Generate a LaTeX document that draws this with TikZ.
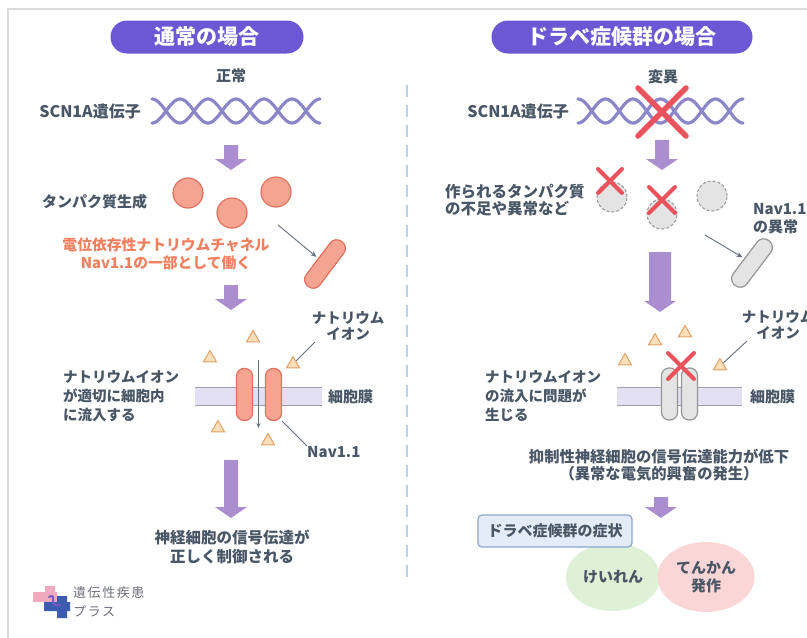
\documentclass[tikz,border=0pt]{standalone}
\usepackage{fontspec}
\setmainfont{Noto Sans CJK JP}
\usetikzlibrary{shapes.geometric, arrows.meta}

\definecolor{headpurple}{RGB}{108,88,212}
\definecolor{arrowpurple}{RGB}{170,142,208}
\definecolor{helixblue}{RGB}{138,134,200}
\definecolor{ink}{RGB}{72,86,102}
\definecolor{salmon}{RGB}{246,164,146}
\definecolor{salmonline}{RGB}{226,112,96}
\definecolor{orangetext}{RGB}{240,128,96}
\definecolor{xred}{RGB}{234,82,92}
\definecolor{grayfill}{RGB}{228,228,228}
\definecolor{grayline}{RGB}{150,150,150}
\definecolor{ionfill}{RGB}{251,222,186}
\definecolor{ionline}{RGB}{226,162,104}
\definecolor{membfill}{RGB}{226,224,242}
\definecolor{membline}{RGB}{160,160,172}
\definecolor{divider}{RGB}{186,210,234}
\definecolor{boxfill}{RGB}{228,236,248}
\definecolor{boxline}{RGB}{140,165,205}
\definecolor{seizgreen}{RGB}{222,240,214}
\definecolor{seizpink}{RGB}{250,214,214}
\definecolor{logopink}{RGB}{240,170,190}
\definecolor{logoblue}{RGB}{60,92,176}
\definecolor{logopurple}{RGB}{120,90,200}
\definecolor{logotext}{RGB}{110,112,124}

% x, top, bottom, half shaft width
\newcommand{\flowarrow}[4]{%
  \fill[arrowpurple] (#1-#4,#2) -- (#1+#4,#2) -- (#1+#4,#3-11) -- (#1+16,#3-11)
    -- (#1,#3) -- (#1-16,#3-11) -- (#1-#4,#3-11) -- cycle;}
% x, y, half size, line width
\newcommand{\crossout}[4]{%
  \draw[xred, line width=#4, line cap=round]
    (#1-#3,#2-#3) -- (#1+#3,#2+#3) (#1-#3,#2+#3) -- (#1+#3,#2-#3);}

\tikzset{
  txt/.style={text=ink, inner sep=0pt, font=\fontsize{15}{18}\selectfont\bfseries},
  head/.style={fill=headpurple, text=white, rounded corners=16.5pt, minimum height=33pt,
    inner sep=0pt, font=\fontsize{21}{24}\selectfont\bfseries},
  protein/.style={circle, draw=salmonline, fill=salmon, line width=1.2pt, minimum size=30pt, inner sep=0pt},
  lostprotein/.style={circle, draw=grayline, fill=grayfill, dash pattern=on 3pt off 2pt,
    line width=1pt, minimum size=30pt, inner sep=0pt},
  rod/.style={rectangle, rounded corners=8pt, minimum width=56pt, minimum height=17pt,
    rotate=53, line width=1.2pt, inner sep=0pt},
  pore/.style={rectangle, rounded corners=7.5pt, minimum width=16pt, minimum height=52pt,
    line width=1.2pt, inner sep=0pt},
  ion/.style={regular polygon, regular polygon sides=3, draw=ionline, fill=ionfill,
    minimum size=15pt, inner sep=0pt, line width=1pt},
  ptr/.style={draw=ink!85, line width=0.9pt},
  helix/.style={helixblue, line width=3.2pt, line cap=round},
}

\begin{document}
\begin{tikzpicture}[x=1pt, y=-1pt]
\useasboundingbox (0,0) rectangle (807,638);
\fill[white] (0,0) rectangle (807,638);
\draw[black!14, line width=1.2pt] (8,645) -- (8,9) -- (815,9);

% headers
\node[head, minimum width=193pt] (hnormal) at (207,37) {通常の場合};
\node[head, minimum width=261pt] (hdravet) at (622,37) {ドラベ症候群の場合};

\draw[divider, line width=2.5pt, dash pattern=on 12pt off 8pt] (407,85) -- (407,577);

%%% left column
\node[txt] (ok) at (231,76) {正常};
\node[txt, anchor=east, font=\fontsize{16}{18}\selectfont\bfseries] (geneL) at (141,111) {SCN1A遺伝子};
\draw[helix] plot[domain=0:6, samples=121, smooth] ({152+28*\x},{111+12*cos(180*\x)});
\draw[helix] plot[domain=0:6, samples=121, smooth] ({152+28*\x},{111-12*cos(180*\x)});

\flowarrow{231}{145}{170}{7}

\node[txt, anchor=west] (protL) at (42,202) {タンパク質生成};
\node[protein] (pa) at (188,193) {};
\node[protein] (pb) at (232,213) {};
\node[protein] (pc) at (276,192) {};

\node[text=orangetext, inner sep=0pt, align=center, font=\fontsize{14.8}{18}\selectfont\bfseries]
  (chan) at (166,254) {電位依存性ナトリウムチャネル\\Nav1.1の一部として働く};
\node[rod, draw=salmonline, fill=salmon] (rodL) at (325,264) {};
\coordinate (ptrL) at (278,225);
\draw[ptr, -{Stealth[length=6pt,width=5pt]}, shorten >=2pt] (ptrL) -- (rodL);

\flowarrow{231}{285}{310}{7}

\node[ion] (iL1) at (253,338) {};
\node[ion] (iL2) at (210,358) {};
\node[ion] (iL3) at (293,364) {};
\node[ion] (iL4) at (218,428) {};
\node[ion] (iL5) at (268,441) {};

\fill[membfill] (195,387) rectangle (322,405);
\draw[membline, line width=1pt] (195,387) -- (322,387) (195,405) -- (322,405);
\node[pore, draw=salmonline, fill=salmon] (poreL1) at (244.5,394.5) {};
\node[pore, draw=salmonline, fill=salmon] (poreL2) at (273.5,394.5) {};
\coordinate (inTop) at (258.5,360);
\coordinate (inBot) at (258.5,428);
\draw[ptr, line width=1pt, -{Stealth[length=5pt,width=4pt]}] (inTop) -- (inBot);

\node[txt, align=center, font=\fontsize{14.5}{15.5}\selectfont\bfseries] (ionL) at (348,326) {ナトリウム\\イオン};
\coordinate (ionLtip) at (315,342);
\draw[ptr] (ionLtip) -- (iL3);
\node[txt, anchor=west] (membL) at (328,397) {細胞膜};
\node[txt, anchor=west] (navL) at (307,452) {Nav1.1};
\draw[ptr] (poreL2.south east) -- (navL.north west);
\node[txt, anchor=west, align=left, font=\fontsize{14.5}{19}\selectfont\bfseries]
  (flowL) at (63,396) {ナトリウムイオン\\が適切に細胞内\\に流入する};

\flowarrow{231}{460}{518}{7}
\node[txt, align=center, font=\fontsize{15.5}{19}\selectfont\bfseries]
  (resultL) at (232,547) {神経細胞の信号伝達が\\正しく制御される};

% logo
\fill[logopink] (45,586) rectangle (55,603) (33,592) rectangle (57,602);
\fill[logoblue] (57,596) rectangle (67,618) (44,602) rectangle (70,611);
\draw[logopurple, line width=2pt, line cap=round] (49,597) .. controls (58,592) and (47,608) .. (60,605);
\node[anchor=west, inner sep=0pt, text=logotext, align=left,
  font=\fontsize{13}{19}\selectfont\addfontfeatures{LetterSpace=12}] (logo) at (73,602) {遺伝性疾患\\プラス};

%%% right column
\node[txt] (mut) at (663,77) {変異};
\node[txt, anchor=east, font=\fontsize{16}{18}\selectfont\bfseries] (geneR) at (569,111) {SCN1A遺伝子};
\draw[helix] plot[domain=0:6, samples=121, smooth] ({578+27.5*\x},{111+12*cos(180*\x)});
\draw[helix] plot[domain=0:6, samples=121, smooth] ({578+27.5*\x},{111-12*cos(180*\x)});
\crossout{662}{112}{24}{5.5pt}

\flowarrow{662}{140}{170}{7}

\node[txt, anchor=west, align=left, font=\fontsize{15.5}{17}\selectfont\bfseries]
  (protR) at (445,200) {作られるタンパク質\\の不足や異常など};
\node[lostprotein] (qa) at (612,197) {};
\node[lostprotein] (qb) at (662,214) {};
\node[lostprotein] (qc) at (712,196) {};
\crossout{610}{181}{12}{4pt}
\crossout{662}{200}{13}{4pt}

\node[txt, anchor=west, align=left, font=\fontsize{15}{18}\selectfont\bfseries]
  (navbad) at (753,219) {Nav1.1\\の異常};
\node[rod, draw=grayline, fill=grayfill] (rodR) at (752,263) {};
\coordinate (ptrR) at (705,235);
\draw[ptr, -{Stealth[length=6pt,width=5pt]}, shorten >=2pt] (ptrR) -- (rodR);

\flowarrow{660}{252}{312}{11}

\node[ion] (iR1) at (655,341) {};
\node[ion] (iR2) at (685,333) {};
\node[ion] (iR3) at (625,361) {};
\node[ion] (iR4) at (720,366) {};

\fill[membfill] (617,387) rectangle (742,405);
\draw[membline, line width=1pt] (617,387) -- (742,387) (617,405) -- (742,405);
\node[pore, draw=grayline, fill=grayfill] (poreR1) at (669.5,394) {};
\node[pore, draw=grayline, fill=grayfill] (poreR2) at (689.5,394) {};
\crossout{681}{366}{13}{4pt}

\node[txt, align=center, font=\fontsize{14.5}{15.5}\selectfont\bfseries] (ionR) at (778,325) {ナトリウム\\イオン};
\coordinate (ionRtip) at (747,341);
\draw[ptr] (ionRtip) -- (iR4);
\node[txt, anchor=west] (membR) at (750,397) {細胞膜};
\node[txt, anchor=west, align=left, font=\fontsize{14.5}{19}\selectfont\bfseries]
  (flowR) at (485,396) {ナトリウムイオン\\の流入に問題が\\生じる};

\node[txt, align=center, font=\fontsize{15.3}{16.5}\selectfont\bfseries]
  (resultR) at (659,465) {抑制性神経細胞の信号伝達能力が低下\\（異常な電気的興奮の発生）};

\flowarrow{661}{497}{518}{7}

\node[ellipse, fill=seizgreen, minimum width=94pt, minimum height=68pt, inner sep=0pt] (cramp) at (613,577) {};
\node[ellipse, fill=seizpink, minimum width=97pt, minimum height=70pt, inner sep=0pt] (epil) at (706,577) {};
\node[txt] at (cramp) {けいれん};
\node[txt, align=center, font=\fontsize{15}{18}\selectfont\bfseries] at (epil) {てんかん\\発作};
\node[txt, draw=boxline, fill=boxfill, line width=1.2pt, rounded corners=4pt,
  minimum width=154pt, minimum height=32pt] (symp) at (555,531) {ドラベ症候群の症状};

\end{tikzpicture}
\end{document}
